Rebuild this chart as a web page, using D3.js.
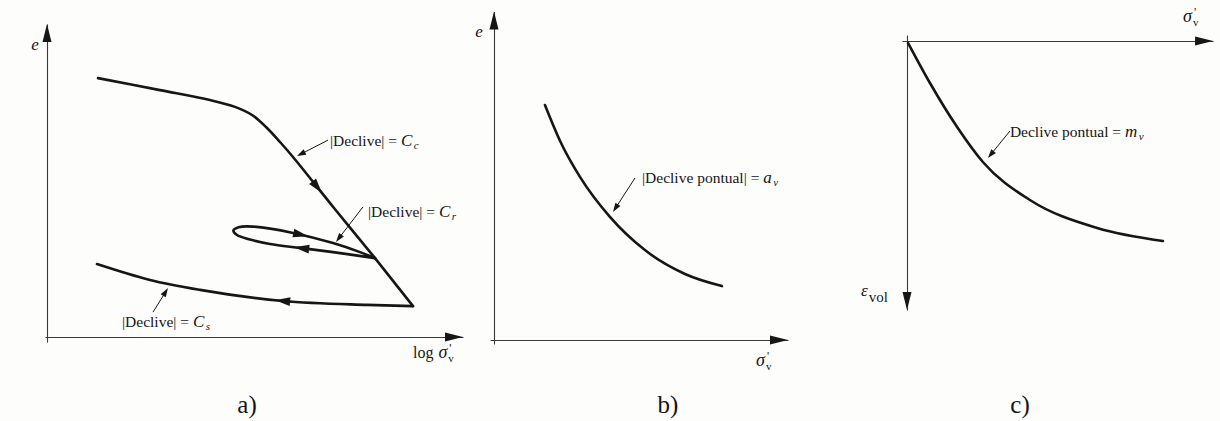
<!DOCTYPE html>
<html>
<head>
<meta charset="utf-8">
<script src="https://cdn.jsdelivr.net/npm/d3@7"></script>
<style>
  html, body { margin: 0; padding: 0; background: #fdfdfc; }
  svg { display: block; }
</style>
</head>
<body>
<svg id="fig" width="1220" height="421"></svg>
<script>
// ---- a) void ratio vs log effective stress (all values on a 0–100 schematic scale)
const aVirgin = [[12.75, 86.3], [28.25, 82.3], [40.75, 79], [47, 76.7], [51.25, 74], [54.75, 70], [58.25, 65], [61.5, 60], [71.75, 43], [82, 26.3]];
// unload–reload loop: from the apex leftwards along the lower branch, round the tip, back along the upper branch
const aLoop = [[82, 26.3], [71.5, 28.3], [63.25, 29.7], [55.75, 31], [50.75, 32.5], [47.5, 34], [46.6, 35.5], [47.9, 36.6], [51.5, 36.8], [61.5, 34.7], [71.5, 31.3], [78.25, 28.3], [82, 26.3]];
const aVirginTail = [[82, 26.3], [91.5, 10.3]];
const aSwelling = [[91.5, 10.3], [80, 10.7], [59, 12], [38.25, 15.7], [25.75, 19], [12.5, 24.3]];
const aFlowArrows = [[67.5, 50], [63.25, 34.2], [63.75, 29.7], [59, 12]];
const aSlopeLabels = ["c", "r", "s"];
const aSlopeAnchors = [[62.5, 60.3], [72.25, 31.7], [30.25, 16.3]];

// ---- b) void ratio vs effective stress
const bCurve = [[18.2, 75.8], [23.6, 64.2], [30.7, 52.6], [41.4, 39.7], [53.9, 29.0], [68.2, 21.3], [81.4, 17.4]];
const bAnchor = [42.5, 41.3];

// ---- c) volumetric strain vs effective stress
const cCurve = [[0.4, 0.8], [8.2, 16.8], [17.9, 34.4], [27.1, 48.4], [43.9, 63.6], [67.9, 74.8], [91.4, 80]];
const cAnchor = [28.9, 46.8];

const panelCaptions = ["a)", "b)", "c)"];

const SERIF = "'Liberation Serif', 'Times New Roman', Times, 'DejaVu Serif', serif";
const svg = d3.select("#fig").attr("font-family", SERIF);
const INK = "#161616";
const AXIS = "#3a3a3a";

// scales for each panel
const xA = d3.scaleLinear([0, 100], [47, 447]);
const yA = d3.scaleLinear([0, 100], [337, 37]);
const xB = d3.scaleLinear([0, 100], [494, 774]);
const yB = d3.scaleLinear([0, 100], [340, 30]);
const xC = d3.scaleLinear([0, 100], [907, 1187]);
const yC = d3.scaleLinear([0, 100], [41, 291]);

function txt(g, x, y, size) {
  return g.append("text").attr("x", x).attr("y", y)
    .attr("font-family", SERIF).attr("font-size", size).attr("fill", "#151515");
}

function tri(g, x, y, ang, len, hw, back) {
  // filled triangle whose tip sits `len - back` ahead of (x, y) along angle ang
  const c = Math.cos(ang), s = Math.sin(ang);
  const tip = [x + c * (len - back), y + s * (len - back)];
  const bx = x - c * back, by = y - s * back;
  const p1 = [bx - s * hw, by + c * hw];
  const p2 = [bx + s * hw, by - c * hw];
  g.append("path")
    .attr("d", `M${tip}L${p1}L${p2}Z`)
    .attr("fill", INK);
}

// axis line drawn with a d3 axis (no ticks), plus an arrowhead at its far end
function hAxis(g, x, y, d0, d1, yVal) {
  const s = x.copy().domain([d0, d1]).range([x(d0), x(d1)]);
  g.append("g")
    .attr("transform", `translate(0,${y(yVal)})`)
    .call(d3.axisBottom(s).tickValues([]).tickSizeOuter(0))
    .call(a => a.select(".domain").attr("stroke", AXIS).attr("stroke-width", 1.1));
  tri(g, x(d1) - 18, y(yVal), 0, 18, 4.5, 0);
}
function vAxis(g, x, y, d0, d1, xVal) {
  const s = y.copy().domain([d0, d1]).range([y(d0), y(d1)]);
  g.append("g")
    .attr("transform", `translate(${x(xVal)},0)`)
    .call(d3.axisLeft(s).tickValues([]).tickSizeOuter(0))
    .call(a => a.select(".domain").attr("stroke", AXIS).attr("stroke-width", 1.1));
  const tipY = y(d1);
  const down = tipY > y(d0);
  tri(g, x(xVal), tipY + (down ? -18 : 18), down ? Math.PI / 2 : -Math.PI / 2, 18, 4.5, 0);
}

function curve(g, x, y, pts, kind) {
  const line = d3.line().x(d => x(d[0])).y(d => y(d[1])).curve(kind || d3.curveCatmullRom.alpha(0.5));
  return g.append("path")
    .attr("d", line(pts))
    .attr("fill", "none")
    .attr("stroke", INK)
    .attr("stroke-width", 2.6)
    .attr("stroke-linejoin", "round")
    .attr("stroke-linecap", "round");
}

// arrowhead placed on a path nearest to a given point, pointing along the path
function flowArrow(g, pathSel, px, py) {
  const node = pathSel.node();
  const total = node.getTotalLength();
  let best = 0, bestD = Infinity;
  for (let L = 0; L <= total; L += 0.5) {
    const p = node.getPointAtLength(L);
    const d = (p.x - px) ** 2 + (p.y - py) ** 2;
    if (d < bestD) { bestD = d; best = L; }
  }
  const p0 = node.getPointAtLength(Math.max(0, best - 3));
  const p1 = node.getPointAtLength(Math.min(total, best + 3));
  const pm = node.getPointAtLength(best);
  const ang = Math.atan2(p1.y - p0.y, p1.x - p0.x);
  tri(g, pm.x, pm.y, ang, 15, 4.4, 7);
}

// thin leader line with a small filled arrowhead at the curve
function leader(g, x0, y0, x1, y1) {
  const ang = Math.atan2(y1 - y0, x1 - x0);
  const len = 9;
  g.append("line")
    .attr("x1", x0).attr("y1", y0)
    .attr("x2", x1 - Math.cos(ang) * len * 0.8).attr("y2", y1 - Math.sin(ang) * len * 0.8)
    .attr("stroke", INK).attr("stroke-width", 1);
  tri(g, x1 - Math.cos(ang) * len, y1 - Math.sin(ang) * len, ang, len, 3, 0);
}

function slopeText(g, x, y, lead, sym, sub) {
  const t = txt(g, x, y, 15.5);
  t.append("tspan").text(lead);
  t.append("tspan").attr("font-style", "italic").attr("font-size", 17).text(sym);
  t.append("tspan").attr("font-style", "italic").attr("font-size", 11).attr("dx", 1.5).attr("dy", 3).text(sub);
}

// σ'v : sigma with prime above and v below
function sigmaV(g, x, y, prefix) {
  let cx = x;
  if (prefix) {
    const p = txt(g, cx, y, 16).text(prefix);
    cx += p.node().getComputedTextLength() + 5;
  }
  const s = txt(g, cx, y, 18).attr("font-style", "italic").text("σ");
  cx += s.node().getComputedTextLength() + 1;
  txt(g, cx + 1, y - 6, 12).text("'");
  txt(g, cx, y + 4, 11).text("v");
}

// ---------- panel a
const gA = svg.append("g");
hAxis(gA, xA, yA, -0.5, 104, 0);
vAxis(gA, xA, yA, -1.7, 104.3, 0);
txt(gA, 35, 50, 17).attr("text-anchor", "middle").attr("font-style", "italic").text("e");
sigmaV(gA, 413, 358, "log");

const pVirgin = curve(gA, xA, yA, aVirgin);
const pLoop = curve(gA, xA, yA, aLoop);
curve(gA, xA, yA, aVirginTail);
const pSwell = curve(gA, xA, yA, aSwelling, d3.curveMonotoneX);
[pVirgin, pLoop, pLoop, pSwell].forEach((p, i) =>
  flowArrow(gA, p, xA(aFlowArrows[i][0]), yA(aFlowArrows[i][1])));

// slope annotations: leader start / text start offsets from the anchor on the curve
const aOffsets = [[31, -16, 33, -10], [27, -35, 32, -25], [-15, 24, -46, 39]];
aSlopeLabels.forEach((sub, i) => {
  const ax = xA(aSlopeAnchors[i][0]), ay = yA(aSlopeAnchors[i][1]);
  const o = aOffsets[i];
  leader(gA, ax + o[0], ay + o[1], ax, ay);
  slopeText(gA, ax + o[2], ay + o[3], "|Declive| = ", "C", sub);
});

// ---------- panel b
const gB = svg.append("g");
hAxis(gB, xB, yB, -1.4, 105, 0);
vAxis(gB, xB, yB, -1.3, 106, 0);
txt(gB, 479, 37, 17).attr("text-anchor", "middle").attr("font-style", "italic").text("e");
sigmaV(gB, 756, 366, null);
curve(gB, xB, yB, bCurve, d3.curveMonotoneX);
{
  const ax = xB(bAnchor[0]), ay = yB(bAnchor[1]);
  leader(gB, ax + 22, ay - 34, ax, ay);
  slopeText(gB, ax + 29, ay - 29, "|Declive pontual| = ", "a", "v");
}

// ---------- panel c
const gC = svg.append("g");
hAxis(gC, xC, yC, -1.8, 109.3, 0);
vAxis(gC, xC, yC, -2.4, 107.6, 0);
sigmaV(gC, 1183, 22, null);
{
  const t = txt(gC, 861, 296, 17);
  t.append("tspan").attr("font-style", "italic").text("ε");
  t.append("tspan").attr("font-size", 15).attr("dx", 1).attr("dy", 6).text("vol");
}
curve(gC, xC, yC, cCurve, d3.curveMonotoneX);
{
  const ax = xC(cAnchor[0]), ay = yC(cAnchor[1]);
  leader(gC, ax + 22, ay - 27, ax, ay);
  slopeText(gC, ax + 22, ay - 21, "Declive pontual = ", "m", "v");
}

// ---------- captions
[247, 668, 1020].forEach((cx, i) => {
  txt(svg, cx, 413, 25).attr("text-anchor", "middle").text(panelCaptions[i]);
});
</script>
</body>
</html>
